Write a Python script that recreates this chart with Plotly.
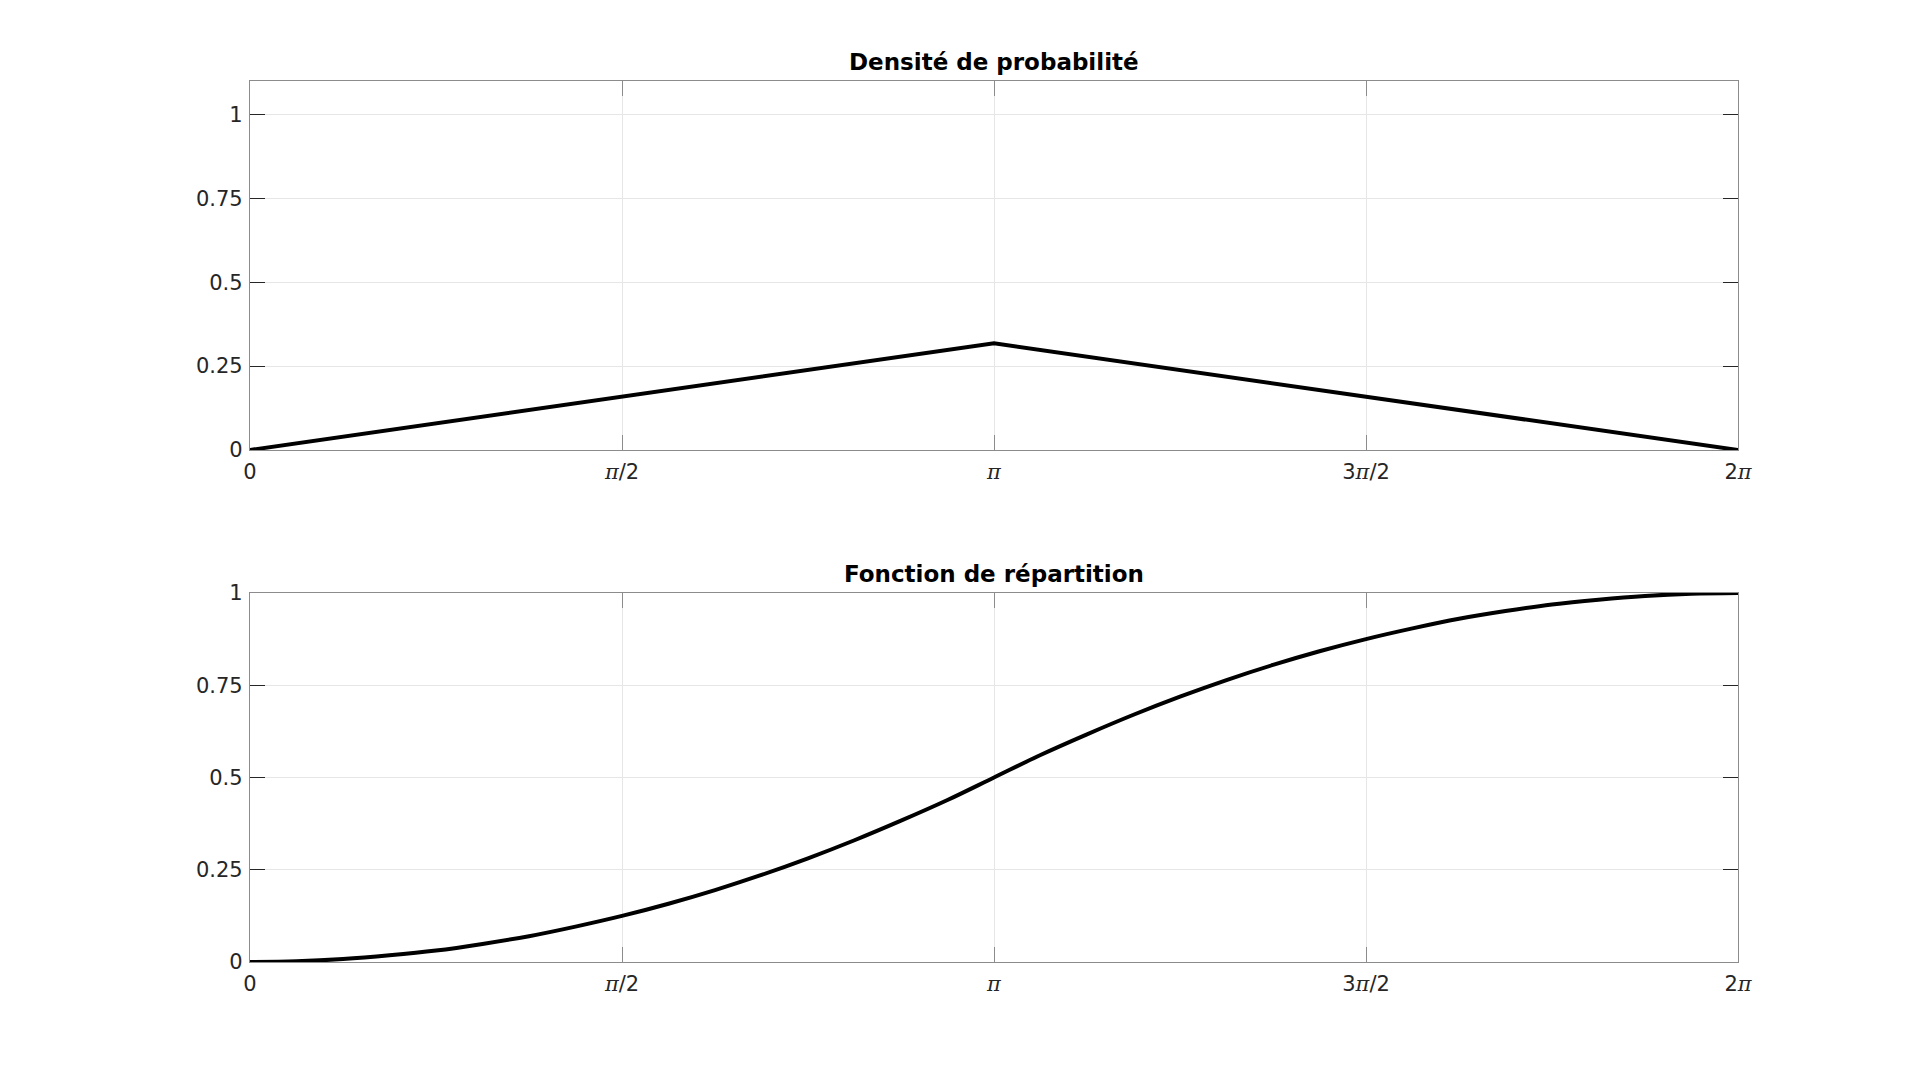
import plotly.graph_objects as go

# ---- data ----
pdf_x = [0.0, 3.1416, 6.2832]
pdf_y = [0.0, 0.318, 0.0]

cdf_x = [0.0, 0.1963, 0.3927, 0.5890, 0.7854, 0.9817, 1.1781, 1.3744, 1.5708,
         1.7671, 1.9635, 2.1598, 2.3562, 2.5525, 2.7489, 2.9452, 3.1416,
         3.3379, 3.5343, 3.7306, 3.9270, 4.1233, 4.3197, 4.5160, 4.7124,
         4.9087, 5.1051, 5.3014, 5.4978, 5.6941, 5.8905, 6.0868, 6.2832]
cdf_y = [0.0, 0.002, 0.008, 0.018, 0.031, 0.049, 0.070, 0.096, 0.125,
         0.158, 0.195, 0.236, 0.281, 0.330, 0.383, 0.439, 0.5,
         0.561, 0.617, 0.670, 0.719, 0.764, 0.805, 0.842, 0.875,
         0.904, 0.930, 0.951, 0.969, 0.982, 0.992, 0.998, 1.0]

x_tickvals = [0.0, 1.5708, 3.1416, 4.7124, 6.2832]
PI = "<span style='font-family:DejaVu Serif'><i>π</i></span>"
x_ticktext = ["0", PI + "/2", PI, "3" + PI + "/2", "2" + PI]
y_tickvals = [0, 0.25, 0.5, 0.75, 1]
y_ticktext = ["0", "0.25", "0.5", "0.75", "1"]

titles = ["Densité de probabilité", "Fonction de répartition"]

# page is 1920x1081 with an 8px body margin; keep the figure inside the viewport
OFF = 8
W, H = 1920 - 2 * OFF, 1081 - 2 * OFF
FONT = "DejaVu Sans"
TXT = "#262626"
AX = "#8c8c8c"
GRID = "#e6e6e6"


def px_x(x):
    return (x - OFF) / W


def px_y(y):
    return 1 - (y - OFF) / H


fig = go.Figure()
fig.add_trace(go.Scatter(x=pdf_x, y=pdf_y, mode="lines",
                         line=dict(color="black", width=4),
                         xaxis="x", yaxis="y", showlegend=False, hoverinfo="skip"))
fig.add_trace(go.Scatter(x=cdf_x, y=cdf_y, mode="lines",
                         line=dict(color="black", width=4, shape="spline", smoothing=1),
                         xaxis="x2", yaxis="y2", showlegend=False, hoverinfo="skip"))

xdom = [px_x(250), px_x(1738)]
ydom_top = [px_y(450), px_y(81)]
ydom_bot = [px_y(962), px_y(593)]

common_x = dict(range=[0, 6.2832], tickvals=x_tickvals, ticktext=x_ticktext,
                showline=True, linecolor=AX, linewidth=1.3, mirror="ticks",
                ticks="inside", ticklen=15, tickcolor=AX, tickwidth=1.3,
                showgrid=True, gridcolor=GRID, gridwidth=1, zeroline=False,
                ticklabelstandoff=3, automargin=False,
                tickfont=dict(family=FONT, size=21, color=TXT), domain=xdom)
common_y = dict(tickvals=y_tickvals, ticktext=y_ticktext,
                showline=True, linecolor=AX, linewidth=1.3, mirror="ticks",
                ticks="inside", ticklen=15, tickcolor=TXT, tickwidth=1.3,
                showgrid=True, gridcolor=GRID, gridwidth=1, zeroline=False,
                ticklabelstandoff=2, automargin=False,
                tickfont=dict(family=FONT, size=21, color=TXT))

fig.update_layout(
    width=W, height=H, autosize=False,
    margin=dict(l=0, r=0, t=0, b=0, pad=0, autoexpand=False),
    paper_bgcolor="white", plot_bgcolor="white",
    font=dict(family=FONT, color=TXT),
    xaxis=dict(**common_x, anchor="y"),
    yaxis=dict(**common_y, range=[0, 1.1], domain=ydom_top, anchor="x"),
    xaxis2=dict(**common_x, anchor="y2"),
    yaxis2=dict(**common_y, range=[0, 1.0], domain=ydom_bot, anchor="x2"),
    annotations=[
        dict(text="<b>" + titles[0] + "</b>", x=(xdom[0] + xdom[1]) / 2, y=px_y(62),
             xref="paper", yref="paper", showarrow=False, xanchor="center", yanchor="middle",
             font=dict(family=FONT, size=23, color="black")),
        dict(text="<b>" + titles[1] + "</b>", x=(xdom[0] + xdom[1]) / 2, y=px_y(574),
             xref="paper", yref="paper", showarrow=False, xanchor="center", yanchor="middle",
             font=dict(family=FONT, size=23, color="black")),
    ],
)

fig.write_html("out.html")
